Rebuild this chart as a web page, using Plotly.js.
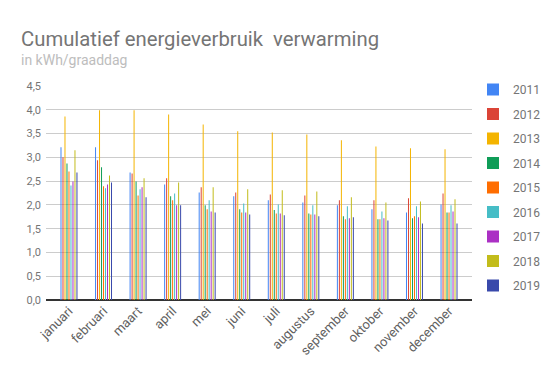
<!DOCTYPE html>
<html><head><meta charset="utf-8">
<script src="https://cdn.plot.ly/plotly-3.0.1.min.js"></script>
<style>html,body{margin:0;padding:0;background:#fff}#chart{width:557px;height:371px}</style>
</head><body><div id="chart"></div>
<script>
const months = ["januari","februari","maart","april","mei","juni","juli","augustus","september","oktober","november","december"];
const years = ["2011","2012","2013","2014","2015","2016","2017","2018","2019"];
const colors = ["#4285f4","#db4437","#f4b400","#0f9d58","#ff6d00","#46bdc6","#ab30c4","#c2bc1b","#3949ab"];
const yTicks = [0,0.5,1,1.5,2,2.5,3,3.5,4,4.5];
const v2011 = [3.21,3.21,2.68,2.43,2.26,2.18,2.10,2.05,1.99,1.91,1.84,2.01];
const v2012 = [3.00,2.94,2.66,2.56,2.37,2.26,2.22,2.20,2.10,2.10,2.14,2.24];
const v2013 = [3.86,3.99,3.99,3.90,3.69,3.55,3.52,3.48,3.36,3.23,3.19,3.17];
const v2014 = [2.87,2.79,2.49,2.18,1.99,1.91,1.89,1.82,1.76,1.70,1.72,1.84];
const v2015 = [2.70,2.39,2.20,2.10,1.91,1.84,1.82,1.80,1.70,1.70,1.76,1.84];
const v2016 = [2.41,2.35,2.33,2.24,2.10,2.03,2.01,1.99,1.97,1.86,1.97,1.99];
const v2017 = [2.49,2.43,2.37,1.99,1.86,1.84,1.82,1.80,1.72,1.72,1.74,1.86];
const v2018 = [3.15,2.62,2.56,2.47,2.37,2.33,2.31,2.28,2.16,2.05,2.07,2.12];
const v2019 = [2.68,2.47,2.16,1.99,1.84,1.80,1.78,1.76,1.74,1.67,1.61,1.61];
const series = [v2011,v2012,v2013,v2014,v2015,v2016,v2017,v2018,v2019];

const traces = series.map((vals,i)=>({
  type:'bar', x:months, y:vals, name:years[i], legendgroup:years[i],
  marker:{color:colors[i], line:{width:0}}, hoverinfo:'none'
}));

const layout = {
  width:557, height:371,
  margin:{l:46, r:85, t:86, b:71},
  paper_bgcolor:'#fff', plot_bgcolor:'#fff',
  font:{family:'Roboto, Arial, sans-serif', color:'#757575'},
  separators:',.',
  barmode:'group', bargap:0.48, bargroupgap:0.5,
  xaxis:{range:[-0.665,11.665], tickangle:-45, tickfont:{size:13, color:'#616161'},
    showgrid:false, zeroline:false, showline:false, ticks:'', ticklabelstandoff:0, fixedrange:true},
  yaxis:{range:[0,4.5], tickvals:yTicks, tickformat:'.1f', tickfont:{size:11, color:'#757575'},
    gridcolor:'#cccccc', gridwidth:1, zeroline:true, zerolinecolor:'#333333', zerolinewidth:1.5,
    showline:false, ticks:'', ticklabelstandoff:4, fixedrange:true},
  showlegend:true,
  legend:{xref:'container', yref:'container', x:473/557, y:1-75/371, xanchor:'left', yanchor:'top',
    font:{size:12, color:'#757575'}, tracegroupgap:5.5, itemwidth:30, maxheight:300, bgcolor:'rgba(0,0,0,0)'},
  annotations:[
    {xref:'paper', yref:'paper', x:-27/426, y:(300-39)/214, xanchor:'left', yanchor:'middle',
     text:'Cumulatief energieverbruik  verwarming', showarrow:false, font:{size:20.3, color:'#757575'}},
    {xref:'paper', yref:'paper', x:-27/426, y:(300-60)/214, xanchor:'left', yanchor:'middle',
     text:'in kWh/graaddag', showarrow:false, font:{size:14, color:'#bdbdbd'}}
  ]
};
Plotly.newPlot('chart', traces, layout, {staticPlot:true, displayModeBar:false});
</script></body></html>
